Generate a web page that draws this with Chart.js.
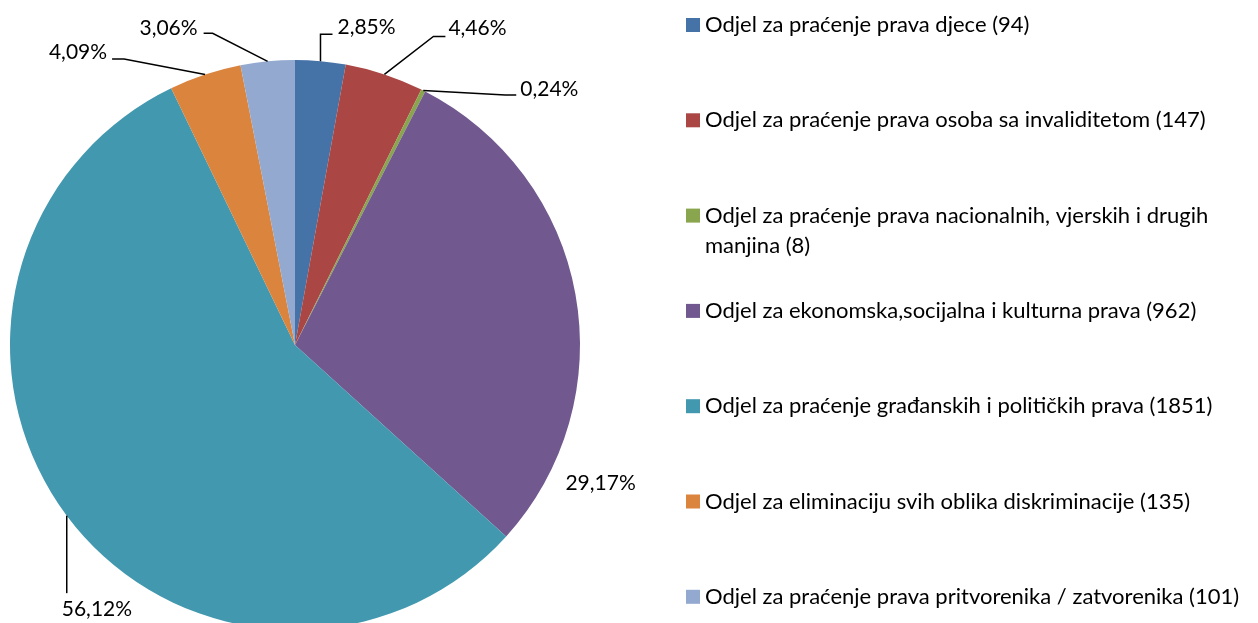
<!DOCTYPE html>
<html>
<head>
<meta charset="utf-8">
<script src="https://cdn.jsdelivr.net/npm/chart.js@4/dist/chart.umd.min.js"></script>
<style>
    html, body { margin: 0; padding: 0; background: #fff; overflow: hidden; }
    canvas { display: block; }
</style>
</head>
<body>
<canvas id="myChart" width="1258" height="640"></canvas>
<script>
// chart data
const categories = [
    'Odjel za praćenje prava djece',
    'Odjel za praćenje prava osoba sa invaliditetom',
    'Odjel za praćenje prava nacionalnih, vjerskih i drugih manjina',
    'Odjel za ekonomska,socijalna i kulturna prava',
    'Odjel za praćenje građanskih i političkih prava',
    'Odjel za eliminaciju svih oblika diskriminacije',
    'Odjel za praćenje prava pritvorenika / zatvorenika'
];
const counts = [94, 147, 8, 962, 1851, 135, 101];
const colors = ['#4572A7', '#AA4643', '#89A54E', '#71588F', '#4198AF', '#DB843D', '#93A9CF'];

// where each percentage label sits, relative to the slice's outer midpoint
// path = leader line points, text = label anchor, align = text side
const labelLayout = [
    { path: [[0, -27], [12, -27]], text: [17, -34], align: 'left' },
    { path: [[49, -38], [61, -38]], text: [64, -46], align: 'left' },
    { path: [[82, 4.5], [93, 4.5]], text: [97, -1.5], align: 'left' },
    { path: [], text: [-10, 189], align: 'left' },
    { path: [[0, 77.5]], text: [-5, 94], align: 'left' },
    { path: [[-81, -15.6], [-93, -15.6]], text: [-98, -22], align: 'right' },
    { path: [[-55, -28], [-64, -28]], text: [-70, -33], align: 'right' }
];

const LABEL_FONT = '21px Lato';
const LEGEND_FONT = '22px Lato';

const total = counts.reduce((a, b) => a + b, 0);
function pct(v) {
    return (v / total * 100).toFixed(2).replace('.', ',') + '%';
}

// percentage labels with leader lines
const labelPlugin = {
    id: 'pieLabels',
    afterDatasetsDraw(chart) {
        const ctx = chart.ctx;
        const meta = chart.getDatasetMeta(0);
        ctx.save();
        ctx.font = LABEL_FONT;
        ctx.fillStyle = '#000';
        ctx.strokeStyle = '#000';
        ctx.lineWidth = 1.5;
        ctx.textBaseline = 'middle';
        meta.data.forEach(function (arc, i) {
            const mid = (arc.startAngle + arc.endAngle) / 2;
            const ax = arc.x + Math.cos(mid) * arc.outerRadius;
            const ay = arc.y + Math.sin(mid) * arc.outerRadius;
            const lay = labelLayout[i];
            if (lay.path.length) {
                ctx.beginPath();
                ctx.moveTo(ax, ay);
                lay.path.forEach(p => ctx.lineTo(ax + p[0], ay + p[1]));
                ctx.stroke();
            }
            ctx.textAlign = lay.align;
            ctx.fillText(pct(counts[i]), ax + lay.text[0], ay + lay.text[1]);
        });
        ctx.restore();
    }
};

// legend on the right, one item every ~95px
const legendPlugin = {
    id: 'sideLegend',
    afterDraw(chart) {
        const ctx = chart.ctx;
        const boxX = 686, textX = 705, top = 25, step = 95.3, lineH = 30;
        const maxW = 548;
        ctx.save();
        ctx.font = LEGEND_FONT;
        ctx.textBaseline = 'middle';
        ctx.textAlign = 'left';
        categories.forEach(function (name, i) {
            const y = top + i * step;
            ctx.fillStyle = colors[i];
            ctx.fillRect(boxX, y - 7, 14, 14);
            ctx.fillStyle = '#000';
            // simple word wrap
            const words = (name + ' (' + counts[i] + ')').split(' ');
            let line = '', ly = y;
            words.forEach(function (w) {
                const test = line ? line + ' ' + w : w;
                if (ctx.measureText(test).width > maxW && line) {
                    ctx.fillText(line, textX, ly);
                    line = w;
                    ly += lineH;
                } else {
                    line = test;
                }
            });
            ctx.fillText(line, textX, ly);
        });
        ctx.restore();
    }
};

const ctx = document.getElementById('myChart').getContext('2d');
const myChart = new Chart(ctx, {
    type: 'pie',
    data: {
        labels: categories,
        datasets: [{
            data: counts,
            backgroundColor: colors,
            borderWidth: 0
        }]
    },
    options: {
        responsive: false,
        animation: false,
        layout: {
            padding: { left: 10, right: 678, top: 60, bottom: 10 }
        },
        plugins: {
            legend: { display: false },
            tooltip: { enabled: false }
        }
    },
    plugins: [labelPlugin, legendPlugin]
});
</script>
</body>
</html>
